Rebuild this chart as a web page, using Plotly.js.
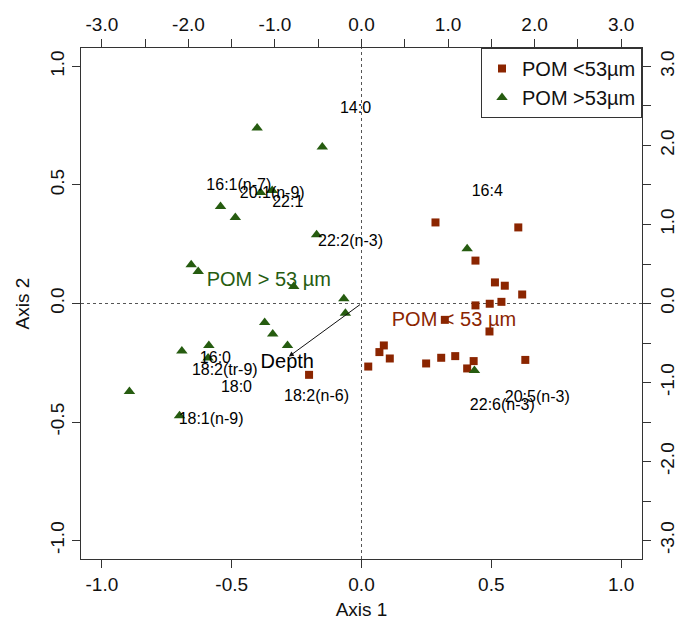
<!DOCTYPE html>
<html>
<head>
<meta charset="utf-8">
<script src="https://cdn.plot.ly/plotly-3.0.1.min.js"></script>
<style>html,body{margin:0;padding:0;background:#fff;}#chart{width:676px;height:623px;}</style>
</head>
<body>
<div id="chart"></div>
<script>
// Site scores (primary axes, bottom/left)
const smallX = [0.285, 0.604, 0.439, 0.514, 0.552, 0.619, 0.439, 0.494, 0.539, 0.321, 0.493, 0.086, 0.069, 0.109, 0.026, 0.249, 0.307, 0.361, 0.432, 0.407, 0.631, -0.202];
const smallY = [0.342, 0.321, 0.181, 0.089, 0.075, 0.038, -0.008, -0.001, 0.007, -0.069, -0.118, -0.177, -0.205, -0.232, -0.266, -0.253, -0.229, -0.222, -0.243, -0.274, -0.238, -0.301];
const largeX = [-0.402, -0.151, -0.389, -0.344, -0.543, -0.486, -0.173, -0.656, -0.629, -0.261, -0.068, -0.062, -0.373, -0.342, -0.692, -0.588, -0.285, -0.591, -0.894, -0.701, 0.407, 0.435];
const largeY = [0.740, 0.660, 0.468, 0.477, 0.409, 0.363, 0.290, 0.163, 0.135, 0.072, 0.020, -0.041, -0.080, -0.129, -0.200, -0.177, -0.177, -0.230, -0.371, -0.474, 0.231, -0.283];

// Fatty acid (species) labels, secondary axes (top/right)
const faLabels = ["14:0", "16:1(n-7)", "20:1(n-9)", "22:1", "22:2(n-3)", "16:4", "16:0", "18:2(tr-9)", "18:0", "18:1(n-9)", "18:2(n-6)", "20:5(n-3)", "22:6(n-3)"];
const faX = [-0.069, -1.418, -1.032, -0.852, -0.127, 1.453, -1.688, -1.580, -1.445, -1.738, -0.520, 2.031, 1.627];
const faY = [2.46, 1.490, 1.389, 1.278, 0.777, 1.410, -0.704, -0.848, -1.071, -1.472, -1.185, -1.198, -1.295];

// Group centroid labels
const groupNames = ["POM > 53 µm", "POM < 53 µm"];
const groupX = [-0.357, 0.356];
const groupY = [0.093, -0.072];

// Environmental vector
const envName = ["Depth"];
const envX = [-0.280];
const envY = [-0.224];
const envLabelX = [-0.286];
const envLabelY = [-0.251];

// Tick labels
const primTicks = [-1.0, -0.5, 0.0, 0.5, 1.0];
const primTickText = ["-1.0", "-0.5", "0.0", "0.5", "1.0"];
const secTicks = [-3.0, -2.5, -2.0, -1.5, -1.0, -0.5, 0.0, 0.5, 1.0, 1.5, 2.0, 2.5, 3.0];
const secTickText = ["-3.0", "", "-2.0", "", "-1.0", "", "0.0", "", "1.0", "", "2.0", "", "3.0"];

const BROWN = "#8B2500";
const GREEN = "#265C10";
const FONT = "Liberation Sans, Arial, sans-serif";

const traces = [
  {x: smallX, y: smallY, type: "scatter", mode: "markers", name: "POM <53µm",
   marker: {symbol: "square", size: 8, color: BROWN}, xaxis: "x", yaxis: "y"},
  {x: largeX, y: largeY, type: "scatter", mode: "markers", name: "POM >53µm",
   marker: {symbol: "triangle-up", size: 10, color: GREEN}, xaxis: "x", yaxis: "y"},
  {x: faX, y: faY, text: faLabels, type: "scatter", mode: "text", showlegend: false,
   textfont: {family: FONT, size: 16, color: "#000"}, textposition: "middle center",
   xaxis: "x2", yaxis: "y2", hoverinfo: "skip"},
  {x: groupX, y: groupY, text: groupNames, type: "scatter", mode: "text", showlegend: false,
   textfont: {family: FONT, size: 20, color: [GREEN, BROWN]}, textposition: "middle center",
   xaxis: "x", yaxis: "y", hoverinfo: "skip"},
  {x: envLabelX, y: envLabelY, text: envName, type: "scatter", mode: "text", showlegend: false,
   textfont: {family: FONT, size: 20, color: "#000"}, textposition: "middle center",
   xaxis: "x", yaxis: "y", hoverinfo: "skip"}
];

const axCommon = {
  showgrid: false, zeroline: false, showline: true, linecolor: "#333", linewidth: 1,
  ticks: "outside", ticklen: 8, tickwidth: 1, tickcolor: "#333",
  tickfont: {family: FONT, size: 19, color: "#111"}
};

const layout = {
  width: 676, height: 623,
  margin: {l: 81, r: 34, t: 48, b: 64},
  paper_bgcolor: "#fff", plot_bgcolor: "#fff",
  font: {family: FONT, color: "#111"},
  showlegend: true,
  legend: {x: 1, xanchor: "right", y: 1, yanchor: "top", bgcolor: "#fff",
           bordercolor: "#333", borderwidth: 1, font: {family: FONT, size: 20, color: "#111"},
           tracegroupgap: 0, itemwidth: 30},
  xaxis: Object.assign({}, axCommon, {range: [-1.0805, 1.0805], tickmode: "array",
           tickvals: primTicks, ticktext: primTickText, side: "bottom", anchor: "y",
           title: {text: "Axis 1", font: {family: FONT, size: 19, color: "#111"}, standoff: 8}}),
  yaxis: Object.assign({}, axCommon, {range: [-1.078, 1.078], tickmode: "array",
           tickvals: primTicks, ticktext: primTickText, side: "left", anchor: "x", tickangle: -90,
           title: {text: "Axis 2", font: {family: FONT, size: 19, color: "#111"}, standoff: 12}}),
  xaxis2: Object.assign({}, axCommon, {range: [-3.2415, 3.2415], tickmode: "array",
           tickvals: secTicks, ticktext: secTickText, side: "top", overlaying: "x", anchor: "y"}),
  yaxis2: Object.assign({}, axCommon, {range: [-3.234, 3.234], tickmode: "array",
           tickvals: secTicks, ticktext: secTickText, side: "right", overlaying: "y", anchor: "x", tickangle: -90}),
  shapes: [
    {type: "line", xref: "paper", yref: "y", x0: 0, x1: 1, y0: 0, y1: 0,
     line: {color: "#555", width: 1, dash: "dot"}, layer: "below"},
    {type: "line", xref: "x", yref: "paper", x0: 0, x1: 0, y0: 0, y1: 1,
     line: {color: "#555", width: 1, dash: "dot"}, layer: "below"}
  ],
  annotations: envX.map((v, i) => ({
    x: v, y: envY[i], xref: "x", yref: "y", ax: 0, ay: 0, axref: "x", ayref: "y",
    text: "", showarrow: true, arrowhead: 2, arrowsize: 1, arrowwidth: 1, arrowcolor: "#111"
  }))
};

Plotly.newPlot("chart", traces, layout, {displayModeBar: false, staticPlot: true});
</script>
</body>
</html>
